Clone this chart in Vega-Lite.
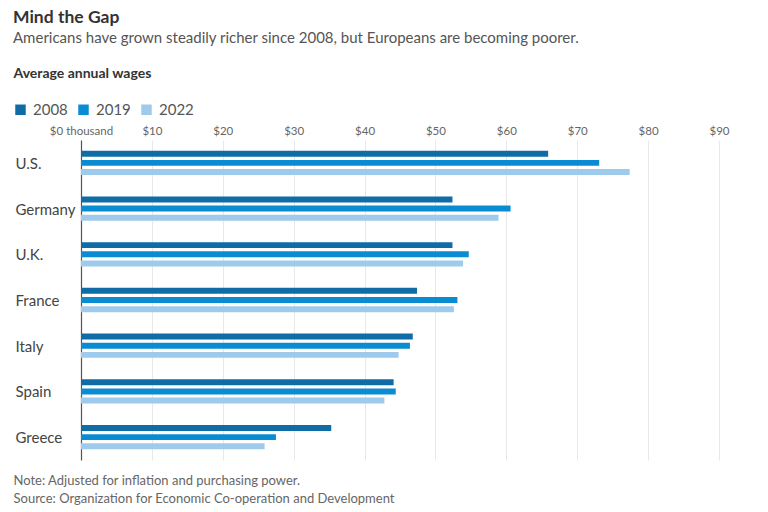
{
  "$schema": "https://vega.github.io/schema/vega-lite/v6.json",
  "autosize": {"type": "none"},
  "width": 638,
  "height": 320,
  "padding": {"left": 81, "top": 140, "right": 49, "bottom": 52},
  "background": "white",
  "title": {
    "text": "Mind the Gap",
    "subtitle": "Americans have grown steadily richer since 2008, but Europeans are becoming poorer.",
    "anchor": "start",
    "frame": "group",
    "dx": -68,
    "offset": 20,
    "font": "Lato",
    "fontSize": 17.5,
    "fontWeight": "bold",
    "color": "#333333",
    "subtitleFont": "Lato",
    "subtitleFontSize": 15,
    "subtitleColor": "#555555",
    "subtitlePadding": 5
  },
  "data": {
    "values": [
      {"country": "U.S.", "year": "2008", "wage": 65.9},
      {"country": "U.S.", "year": "2019", "wage": 73.1},
      {"country": "U.S.", "year": "2022", "wage": 77.4},
      {"country": "Germany", "year": "2008", "wage": 52.4},
      {"country": "Germany", "year": "2019", "wage": 60.6},
      {"country": "Germany", "year": "2022", "wage": 58.9},
      {"country": "U.K.", "year": "2008", "wage": 52.4},
      {"country": "U.K.", "year": "2019", "wage": 54.7},
      {"country": "U.K.", "year": "2022", "wage": 53.9},
      {"country": "France", "year": "2008", "wage": 47.4},
      {"country": "France", "year": "2019", "wage": 53.1},
      {"country": "France", "year": "2022", "wage": 52.6},
      {"country": "Italy", "year": "2008", "wage": 46.8},
      {"country": "Italy", "year": "2019", "wage": 46.4},
      {"country": "Italy", "year": "2022", "wage": 44.8},
      {"country": "Spain", "year": "2008", "wage": 44.1},
      {"country": "Spain", "year": "2019", "wage": 44.4},
      {"country": "Spain", "year": "2022", "wage": 42.8},
      {"country": "Greece", "year": "2008", "wage": 35.3},
      {"country": "Greece", "year": "2019", "wage": 27.5},
      {"country": "Greece", "year": "2022", "wage": 25.9}
    ]
  },
  "mark": {"type": "bar"},
  "encoding": {
    "y": {
      "field": "country",
      "type": "nominal",
      "sort": ["U.S.", "Germany", "U.K.", "France", "Italy", "Spain", "Greece"],
      "scale": {"paddingInner": 0.4, "paddingOuter": 0.2},
      "axis": {
        "orient": "left",
        "title": ["Note: Adjusted for inflation and purchasing power.", "Source: Organization for Economic Co-operation and Development"],
        "titleAngle": 0,
        "titleX": -68,
        "titleY": 334,
        "titleAlign": "left",
        "titleAnchor": null,
        "titleBaseline": "top",
        "titleFont": "Lato",
        "titleFontSize": 13,
        "titleFontWeight": "normal",
        "titleColor": "#666666",
        "titleLineHeight": 18,
        "labelAlign": "left",
        "labelPadding": 66,
        "labelFont": "Lato",
        "labelFontSize": 15,
        "labelColor": "#444444",
        "labelBaseline": "middle",
        "labelOffset": 1,
        "ticks": false,
        "tickSize": 0,
        "domain": true,
        "domainColor": "#555555",
        "domainWidth": 1.2,
        "grid": false
      }
    },
    "yOffset": {
      "field": "year",
      "type": "nominal",
      "sort": ["2008", "2019", "2022"],
      "scale": {"paddingInner": 0.35, "paddingOuter": 0.17}
    },
    "x": {
      "field": "wage",
      "type": "quantitative",
      "scale": {"domain": [0, 90], "nice": false},
      "axis": {
        "orient": "top",
        "values": [0, 10, 20, 30, 40, 50, 60, 70, 80, 90],
        "labelExpr": "datum.value == 0 ? '$0 thousand' : '$' + datum.value",
        "labelFont": "Lato",
        "labelFontSize": 11.5,
        "labelColor": "#666666",
        "labelPadding": 4,
        "labelFlush": false,
        "ticks": false,
        "domain": false,
        "grid": true,
        "gridColor": "#e8e8e8",
        "gridWidth": 1,
        "title": "Average annual wages",
        "titleX": -68,
        "titleY": -67,
        "titleAlign": "left",
        "titleAnchor": null,
        "titleBaseline": "middle",
        "titleFont": "Lato",
        "titleFontSize": 14,
        "titleFontWeight": "bold",
        "titleColor": "#333333"
      }
    },
    "color": {
      "field": "year",
      "type": "nominal",
      "sort": ["2008", "2019", "2022"],
      "scale": {"domain": ["2008", "2019", "2022"], "range": ["#0f6ca6", "#0a8cd2", "#9ecbec"]},
      "legend": {
        "title": null,
        "orient": "none",
        "direction": "horizontal",
        "legendX": -68,
        "legendY": -38,
        "symbolType": "square",
        "symbolSize": 110,
        "symbolStrokeWidth": 0,
        "symbolOpacity": 1,
        "labelFont": "Lato",
        "labelFontSize": 15,
        "labelColor": "#555555",
        "labelOffset": 5,
        "columnPadding": 8
      }
    }
  },
  "config": {
    "view": {"stroke": null}
  }
}
